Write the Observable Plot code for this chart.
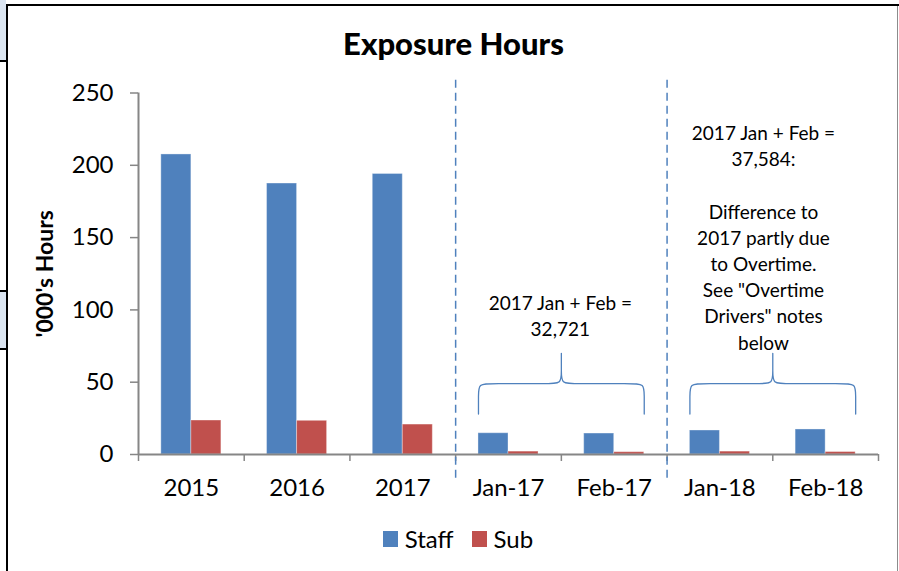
<!DOCTYPE html>
<html><head><meta charset="utf-8">
<script src="https://cdn.jsdelivr.net/npm/d3@7"></script>
<script src="https://cdn.jsdelivr.net/npm/@observablehq/plot@0.6"></script>
<style>
body{margin:0;background:#fff;font-family:Lato,"Open Sans",sans-serif;}
#page{position:relative;width:899px;height:571px;overflow:hidden;background:#fff;}
.cell{position:absolute;left:0;width:6px;background:#dbe5f1;border-top:2px solid #000;border-bottom:2px solid #000;}
#bTop{position:absolute;left:6px;top:4px;width:893px;height:2px;background:#000;}
#bLeft{position:absolute;left:6px;top:4px;width:2px;height:567px;background:#000;}
#bRight{position:absolute;left:897px;top:6px;width:1px;height:565px;background:#8c8c8c;}
#title{position:absolute;left:8px;width:891px;top:24px;text-align:center;font-weight:900;font-size:31px;color:#000;}
#chart{position:absolute;left:0;top:70px;}
#legend{position:absolute;left:0;top:524px;width:916px;display:flex;justify-content:center;align-items:center;font-size:24px;color:#000;}
.sw{display:inline-block;width:15px;height:16px;margin-right:7px;}
.item{display:flex;align-items:center;margin:0 9px;}
</style></head><body>
<div id="page">
  <div class="cell" style="top:-2px;height:60px;"></div>
  <div class="cell" style="top:290px;height:56px;"></div>
  <div id="bTop"></div><div id="bLeft"></div><div id="bRight"></div>
  <div id="title">Exposure Hours</div>
  <div id="chart"></div>
  <div id="legend"></div>
</div>
<script>
const categories = ["2015", "2016", "2017", "Jan-17", "Feb-17", "Jan-18", "Feb-18"];
const staff = [207.5, 187.4, 194.0, 14.7, 14.5, 16.6, 17.3];
const sub = [23.5, 23.3, 20.7, 2.0, 1.6, 2.0, 1.7];
const seriesNames = ["Staff", "Sub"];
const seriesColors = ["#4F81BD", "#C0504D"];
const yTicks = [0, 50, 100, 150, 200, 250];
const dividers = [3, 5];
const bracketGroups = [[3, 4], [5, 6]];
const notes = [
  {x: 3.99, y: 96.8, text: "2017 Jan + Feb =\n32,721"},
  {x: 5.912, y: 150.8, text: "2017 Jan + Feb =\n37,584:\n\nDifference to\n2017 partly due\nto Overtime.\nSee \"Overtime\nDrivers\" notes\nbelow"}
];
const yLabel = "'000's Hours";

// grouped bar layout within each category slot
const barStart = 0.216, barW = 0.284;
const bars = [];
categories.forEach((c, i) => {
  [staff, sub].forEach((vals, s) => {
    bars.push({cat: c, i, series: seriesNames[s], value: vals[i],
      x1: i + barStart + s * barW, x2: i + barStart + (s + 1) * barW});
  });
});

// curly braces spanning the bars of each group
const bLow = 28, bMid = 49, bTop = 70, rx = 0.12, ry = 8;
const bracePts = [];
bracketGroups.forEach(([a, b], k) => {
  const x1 = a + barStart, x2 = b + barStart + 2 * barW, m = (x1 + x2) / 2;
  const pts = [[x1,bLow],[x1,bLow],[x1,bMid-ry],[x1,bMid],[x1+rx,bMid],[m-rx,bMid],[m,bMid],[m,bMid+ry],
    [m,bTop],[m,bTop],[m,bTop],[m,bMid+ry],[m,bMid],[m+rx,bMid],[x2-rx,bMid],[x2,bMid],[x2,bMid-ry],[x2,bLow],[x2,bLow]];
  pts.forEach(([x, y]) => bracePts.push({k, x, y}));
});

const plot = Plot.plot({
  width: 899,
  height: 450,
  marginLeft: 138,
  marginRight: 21,
  marginTop: 22.5,
  marginBottom: 66,
  style: {fontFamily: "Lato, 'Open Sans', sans-serif", fontSize: "24px", color: "#000", background: "transparent", overflow: "visible"},
  x: {domain: [0, categories.length], axis: null},
  y: {domain: [0, 250], axis: null},
  color: {domain: seriesNames, range: seriesColors},
  marks: [
    Plot.rectY(bars, {x1: "x1", x2: "x2", y: "value", fill: "series", stroke: "#ffffff", strokeOpacity: 0.35, strokeWidth: 1}),
    Plot.ruleY([0], {x1: 0, x2: categories.length, stroke: "#868686", strokeWidth: 2}),
    Plot.ruleX([0], {y1: 0, y2: 250, stroke: "#868686", strokeWidth: 2}),
    Plot.axisY({ticks: yTicks, tickSize: 8, tickPadding: 17, stroke: "#868686", strokeWidth: 1.5, fontSize: 24, label: null, fill: "#000"}),
    Plot.axisX(d3.range(categories.length + 1), {tickSize: 7, tickFormat: () => "", stroke: "#868686", strokeWidth: 1.5, label: null}),
    Plot.axisX(categories.map((_, i) => i + 0.5), {tickSize: 0, tickPadding: 24, tickFormat: v => categories[Math.floor(v)], fontSize: 24, label: null, fill: "#000"}),
    Plot.ruleX(dividers, {y1: -16.5, y2: 260, stroke: "#4F81BD", strokeWidth: 1.5, strokeDasharray: "8,5"}),
    Plot.line(bracePts, {x: "x", y: "y", z: "k", curve: "basis", stroke: "#4F81BD", strokeWidth: 1.3}),
    Plot.text(notes, {x: "x", y: "y", text: "text", fontSize: 19, lineHeight: 1.38, fill: "#000", textAnchor: "middle", lineAnchor: "middle"}),
    Plot.text([yLabel], {frameAnchor: "left", dx: -93, rotate: -90, textAnchor: "middle", fontWeight: "bold", fontSize: 23, fill: "#000"})
  ]
});
document.getElementById("chart").appendChild(plot);

const legend = document.getElementById("legend");
seriesNames.forEach((n, i) => {
  const it = document.createElement("div");
  it.className = "item";
  it.innerHTML = `<span class="sw" style="background:${seriesColors[i]}"></span><span>${n}</span>`;
  legend.appendChild(it);
});
</script>
</body></html>
